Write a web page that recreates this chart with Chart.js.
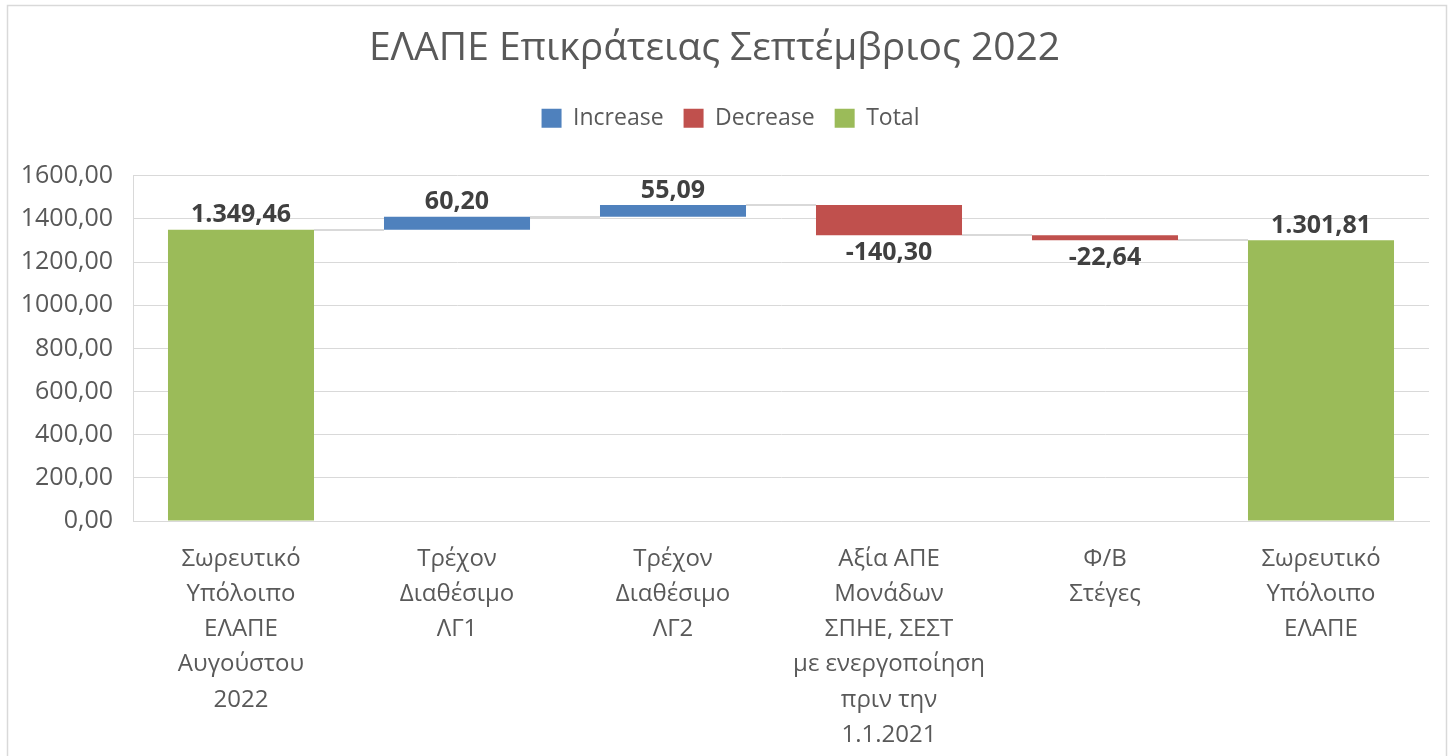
<!DOCTYPE html>
<html>
<head>
<meta charset="utf-8">
<script src="https://cdn.jsdelivr.net/npm/chart.js@4.4.1/dist/chart.umd.min.js"></script>
<style>
  html, body { margin: 0; padding: 0; background: #ffffff; }
  #wrap { position: relative; width: 1448px; height: 756px; }
</style>
</head>
<body>
<div id="wrap"><canvas id="chart" width="1448" height="756"></canvas></div>
<script>
// Waterfall steps of the ΕΛΑΠΕ account, September 2022
const categories = [
  ['Σωρευτικό', 'Υπόλοιπο', 'ΕΛΑΠΕ', 'Αυγούστου', '2022'],
  ['Τρέχον', 'Διαθέσιμο', 'ΛΓ1'],
  ['Τρέχον', 'Διαθέσιμο', 'ΛΓ2'],
  ['Αξία ΑΠΕ', 'Μονάδων', 'ΣΠΗΕ, ΣΕΣΤ', 'με ενεργοποίηση', 'πριν την', '1.1.2021'],
  ['Φ/Β', 'Στέγες'],
  ['Σωρευτικό', 'Υπόλοιπο', 'ΕΛΑΠΕ']
];
const stepValues = [1349.46, 60.20, 55.09, -140.30, -22.64, 1301.81];
const stepKinds = ['total', 'increase', 'increase', 'decrease', 'decrease', 'total'];
const yTicks = [0, 200, 400, 600, 800, 1000, 1200, 1400, 1600];

const seriesNames = { increase: 'Increase', decrease: 'Decrease', total: 'Total' };
const seriesColors = { increase: '#4f81bd', decrease: '#c0504d', total: '#9bbb59' };

// floating [start, end] range for every step
const ranges = [];
let level = 0;
stepValues.forEach((v, i) => {
  if (stepKinds[i] === 'total') { ranges.push([0, v]); level = v; }
  else { ranges.push([level, level + v]); level += v; }
});

function fmtNumber(v, groupThousands) {
  const neg = v < 0;
  const parts = Math.abs(v).toFixed(2).split('.');
  let intPart = parts[0];
  if (groupThousands) intPart = intPart.replace(/\B(?=(\d{3})+(?!\d))/g, '.');
  return (neg ? '-' : '') + intPart + ',' + parts[1];
}

const FONT = "'Open Sans', 'Noto Sans', sans-serif";

const datasets = ['increase', 'decrease', 'total'].map(kind => ({
  label: seriesNames[kind],
  kind: kind,
  data: ranges.map((r, i) => stepKinds[i] === kind ? r : null),
  backgroundColor: seriesColors[kind],
  borderWidth: 0,
  grouped: false,
  categoryPercentage: 1.0,
  barPercentage: 0.676
}));

// outer frame of the chart
const framePlugin = {
  id: 'frame',
  beforeDraw(chart) {
    const ctx = chart.ctx;
    ctx.save();
    ctx.strokeStyle = '#d9d9d9';
    ctx.lineWidth = 1.5;
    ctx.beginPath();
    ctx.moveTo(7.5, 760);
    ctx.lineTo(7.5, 5.5);
    ctx.lineTo(1446.5, 5.5);
    ctx.lineTo(1446.5, 760);
    ctx.stroke();
    ctx.restore();
  }
};

// extra room between the legend and the plot; legend centred on the page
const legendGapPlugin = {
  id: 'legendGap',
  beforeInit(chart) {
    const legend = chart.legend;
    const originalFit = legend.fit;
    legend.fit = function () {
      originalFit.call(this);
      this.height += 36;
    };
    const originalDraw = legend.draw;
    legend.draw = function () {
      const ctx = this.ctx;
      ctx.save();
      ctx.translate(16, 0);
      originalDraw.call(this);
      ctx.restore();
    };
  }
};

function barAt(chart, index) {
  for (let d = 0; d < chart.data.datasets.length; d++) {
    if (chart.data.datasets[d].data[index] !== null) {
      return chart.getDatasetMeta(d).data[index];
    }
  }
  return null;
}

// connector lines between consecutive steps
const connectorPlugin = {
  id: 'connectors',
  beforeDatasetsDraw(chart) {
    const ctx = chart.ctx;
    const y = chart.scales.y;
    ctx.save();
    ctx.strokeStyle = '#d9d9d9';
    ctx.lineWidth = 2;
    for (let i = 0; i < ranges.length - 1; i++) {
      const a = barAt(chart, i), b = barAt(chart, i + 1);
      if (!a || !b) continue;
      const py = Math.round(y.getPixelForValue(ranges[i][1]));
      ctx.beginPath();
      ctx.moveTo(a.x + a.width / 2, py);
      ctx.lineTo(b.x - b.width / 2, py);
      ctx.stroke();
    }
    ctx.restore();
  }
};

// value labels above rising/total bars, below falling bars
const valueLabelPlugin = {
  id: 'valueLabels',
  afterDatasetsDraw(chart) {
    const ctx = chart.ctx;
    ctx.save();
    ctx.font = "bold 25px " + FONT;
    ctx.fillStyle = '#404040';
    ctx.textAlign = 'center';
    for (let i = 0; i < stepValues.length; i++) {
      const el = barAt(chart, i);
      if (!el) continue;
      const top = Math.min(el.y, el.base);
      const bottom = Math.max(el.y, el.base);
      const text = fmtNumber(stepValues[i], true);
      if (stepKinds[i] === 'decrease') {
        ctx.textBaseline = 'top';
        ctx.fillText(text, el.x, bottom + 5);
      } else {
        ctx.textBaseline = 'bottom';
        ctx.fillText(text, el.x, top - 2);
      }
    }
    ctx.restore();
  }
};

new Chart(document.getElementById('chart'), {
  type: 'bar',
  data: { labels: categories, datasets: datasets },
  plugins: [legendGapPlugin, framePlugin, connectorPlugin, valueLabelPlugin],
  options: {
    responsive: false,
    animation: false,
    devicePixelRatio: 1,
    layout: { padding: { left: 0, right: 19, top: 0, bottom: 0 } },
    plugins: {
      title: {
        display: true,
        text: 'ΕΛΑΠΕ Επικράτειας Σεπτέμβριος 2022',
        color: '#595959',
        font: { family: FONT, size: 39, weight: 'normal', lineHeight: 1.2 },
        padding: { top: 25, bottom: 15 }
      },
      legend: {
        display: true,
        position: 'top',
        labels: {
          color: '#595959',
          font: { family: FONT, size: 23 },
          boxWidth: 20,
          boxHeight: 19,
          padding: 20
        }
      },
      tooltip: { enabled: false }
    },
    scales: {
      x: {
        grid: { display: false, drawTicks: false },
        border: { display: true, color: '#d9d9d9', width: 1 },
        ticks: {
          color: '#595959',
          font: { family: FONT, size: 24, lineHeight: 1.46 },
          maxRotation: 0,
          autoSkip: false,
          padding: 21
        },
        afterFit(scale) { scale.height = 235; }
      },
      y: {
        min: 0,
        max: 1600,
        afterBuildTicks(scale) { scale.ticks = yTicks.map(v => ({ value: v })); },
        grid: { color: '#d9d9d9', lineWidth: 1, drawTicks: false },
        border: { display: true, color: '#d9d9d9', width: 1 },
        ticks: {
          color: '#595959',
          font: { family: FONT, size: 25 },
          padding: 20,
          callback: v => fmtNumber(v, false)
        },
        afterFit(scale) { scale.width = 133; }
      }
    }
  }
});
</script>
</body>
</html>
